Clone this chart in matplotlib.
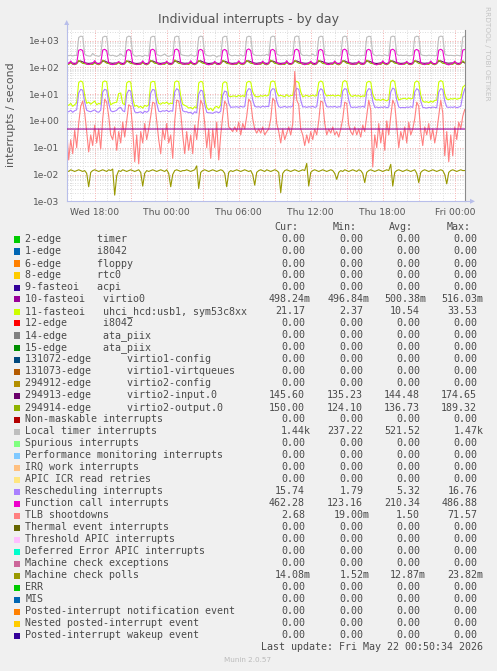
import numpy as np
import matplotlib
matplotlib.use("Agg")
import matplotlib.pyplot as plt
from matplotlib.patches import Rectangle, Polygon
from matplotlib.lines import Line2D
from matplotlib.ticker import FixedLocator, FixedFormatter, NullLocator

# ---------------- data ----------------
start_hour = -8 - 20 / 60      # Wed 15:40, hours relative to Thu 00:00
sample_step = 10 / 60          # 10-minute samples
n_samples = 200

tick_hours = [-6, 0, 6, 12, 18, 24]
tick_labels = ["Wed 18:00", "Thu 00:00", "Thu 06:00", "Thu 12:00", "Thu 18:00", "Fri 00:00"]
ytick_values = [1e-3, 1e-2, 1e-1, 1e0, 1e1, 1e2, 1e3]
ytick_labels = ["1e-03", "1e-02", "1e-01", "1e+00", "1e+01", "1e+02", "1e+03"]

# 10-fasteoi virtio0 (flat)
irq10 = [0.4982, 0.4975, 0.4985, 0.4990, 0.4970, 0.4988, 0.4992, 0.4978, 0.4984, 0.4980, 0.4986, 0.4982]

# 11-fasteoi uhci_hcd:usb1, sym53c8xx
irq11 = [
    4.2, 3.8, 4.5, 3.5, 4.0, 4.8, 27, 31, 28, 9.0, 4.5, 5.0,
    4.2, 4.8, 5.5, 4.0, 4.5, 4.2, 28, 31, 29, 8.0, 4.0, 4.5,
    4.8, 5.0, 10.5, 11.0, 4.5, 4.0, 26, 30, 28, 7.0, 3.5, 3.8,
    3.2, 3.5, 3.0, 3.8, 3.5, 4.0, 27, 30, 29, 8.0, 4.5, 4.2,
    4.8, 4.5, 5.0, 4.2, 4.6, 4.4, 28, 31, 29, 8.5, 4.2, 3.8,
    3.5, 3.0, 3.2, 2.8, 3.4, 3.0, 26, 30, 28, 7.0, 3.2, 2.6,
    3.0, 2.4, 3.2, 3.5, 3.0, 4.0, 25, 29, 27, 8.5, 8.0, 8.5,
    8.5, 8.0, 9.0, 8.2, 8.8, 8.0, 27, 30, 28, 12, 8.5, 8.0,
    8.0, 8.8, 8.3, 9.0, 8.5, 9.2, 28, 31, 29, 12, 8.5, 9.0,
    8.5, 8.0, 9.5, 8.2, 8.8, 9.0, 26, 30, 27, 12, 8.0, 8.5,
    9.0, 8.2, 8.6, 9.2, 8.4, 8.8, 27, 31, 28, 11, 8.5, 9.0,
    8.6, 9.2, 8.4, 8.8, 9.0, 8.2, 28, 32, 29, 12, 8.6, 8.2,
    9.0, 8.4, 8.8, 8.0, 8.6, 8.2, 27, 30, 28, 10, 6.5, 6.0,
    6.2, 5.8, 6.5, 6.0, 5.6, 6.4, 28, 33, 29, 10, 6.0, 6.5,
    6.8, 7.0, 6.4, 7.2, 6.6, 7.0, 27, 31, 28, 9, 5.5, 5.0,
    5.2, 4.8, 5.5, 5.0, 5.8, 6.0, 28, 32, 29, 10, 6.5, 6.2,
    6.8, 6.5, 7.0, 6.4, 6.8, 7.2, 18, 21.17,
]

# 294913-edge virtio2-input.0
irq294913 = [
    144, 142, 150, 143, 141, 145, 168, 172, 160, 148, 143, 140,
    143, 145, 152, 142, 140, 146, 166, 174, 158, 149, 144, 141,
    145, 143, 149, 144, 139, 147, 165, 170, 161, 147, 142, 139,
    142, 144, 151, 141, 138, 145, 169, 173, 159, 150, 143, 140,
    144, 146, 150, 143, 140, 144, 167, 171, 162, 148, 145, 141,
    143, 142, 153, 142, 137, 146, 168, 175, 160, 149, 143, 139,
    141, 144, 148, 143, 139, 145, 164, 170, 158, 147, 142, 140,
    144, 143, 151, 142, 141, 147, 169, 174, 161, 150, 144, 141,
    145, 146, 150, 144, 140, 146, 166, 172, 159, 148, 143, 140,
    143, 144, 152, 141, 138, 145, 168, 173, 160, 149, 145, 142,
    142, 145, 149, 143, 139, 147, 165, 171, 162, 147, 143, 140,
    144, 143, 151, 142, 140, 146, 167, 174, 158, 150, 144, 141,
    145, 144, 150, 144, 141, 145, 169, 172, 161, 148, 142, 139,
    143, 146, 153, 143, 138, 147, 166, 173, 159, 149, 144, 140,
    142, 144, 149, 141, 139, 146, 168, 171, 160, 147, 143, 141,
    144, 143, 151, 142, 135, 145, 167, 174, 162, 150, 145, 142,
    145, 144, 150, 143, 140, 146, 160, 145.6,
]

# 294914-edge virtio2-output.0
irq294914 = [
    131, 128, 150, 129, 126, 134, 180, 158, 140, 137, 130, 127,
    130, 127, 148, 131, 125, 136, 185, 160, 142, 138, 129, 128,
    129, 130, 152, 128, 127, 133, 178, 156, 139, 136, 131, 126,
    132, 128, 149, 130, 124, 135, 182, 161, 141, 139, 128, 127,
    130, 129, 151, 129, 126, 134, 189, 159, 140, 137, 130, 128,
    131, 127, 147, 131, 125, 136, 179, 157, 142, 138, 129, 126,
    128, 130, 150, 128, 127, 133, 183, 160, 139, 136, 131, 127,
    130, 128, 153, 130, 126, 135, 181, 158, 141, 138, 130, 128,
    131, 129, 148, 129, 125, 134, 186, 161, 140, 137, 128, 127,
    129, 127, 151, 131, 127, 136, 180, 157, 142, 139, 131, 126,
    130, 130, 149, 128, 126, 133, 184, 159, 139, 136, 129, 128,
    132, 128, 152, 130, 124, 135, 178, 160, 141, 138, 130, 127,
    130, 129, 150, 129, 127, 134, 187, 158, 140, 137, 128, 126,
    131, 127, 148, 131, 125, 136, 182, 161, 142, 139, 131, 128,
    129, 130, 151, 128, 126, 133, 179, 157, 139, 136, 129, 127,
    130, 128, 149, 130, 125, 135, 185, 160, 141, 138, 130, 128,
    131, 129, 150, 129, 126, 134, 175, 150,
]

# Local timer interrupts
local_timer = [
    290, 270, 285, 265, 280, 275, 1300, 1450, 1410, 310, 275, 265,
    260, 330, 280, 270, 255, 285, 1320, 1440, 1400, 300, 270, 285,
    265, 255, 280, 320, 270, 260, 1310, 1460, 1390, 315, 265, 260,
    275, 270, 250, 285, 270, 265, 1300, 1440, 1410, 300, 280, 265,
    285, 315, 270, 255, 275, 285, 1330, 1450, 1400, 305, 285, 275,
    270, 265, 295, 275, 260, 280, 1320, 1460, 1390, 325, 280, 270,
    265, 285, 275, 240, 270, 265, 1300, 1440, 1410, 315, 275, 270,
    285, 275, 270, 295, 265, 280, 1330, 1450, 1390, 325, 285, 275,
    280, 270, 285, 275, 305, 270, 1310, 1460, 1400, 315, 285, 270,
    275, 280, 270, 285, 275, 295, 1340, 1470, 1410, 325, 280, 275,
    285, 270, 275, 315, 270, 280, 1300, 1450, 1400, 305, 285, 275,
    275, 285, 270, 280, 265, 285, 1330, 1460, 1390, 315, 275, 280,
    270, 275, 285, 270, 280, 275, 1310, 1440, 1410, 325, 280, 270,
    285, 275, 270, 295, 275, 270, 1340, 1460, 1400, 315, 275, 285,
    275, 280, 285, 270, 275, 285, 1320, 1450, 1390, 305, 280, 275,
    270, 285, 275, 280, 270, 275, 1330, 1460, 1410, 315, 285, 275,
    280, 275, 270, 285, 275, 265, 1340, 1440,
]

# Rescheduling interrupts
rescheduling = [
    2.3, 2.2, 2.5, 2.1, 2.4, 2.6, 11, 15, 14, 5.0, 2.5, 2.3,
    2.2, 2.4, 2.6, 2.2, 2.1, 2.5, 12, 15, 14, 4.5, 2.4, 2.2,
    2.3, 2.5, 3.0, 3.2, 2.4, 2.2, 10, 14, 13, 4.0, 2.2, 2.0,
    2.1, 2.2, 1.9, 2.3, 2.1, 2.4, 11, 15, 14, 4.5, 2.3, 2.2,
    2.4, 2.3, 2.5, 2.2, 2.4, 2.3, 12, 16, 14, 5.0, 2.4, 2.2,
    2.2, 2.0, 2.1, 1.8, 2.2, 2.0, 10, 14, 13, 4.0, 2.1, 2.0,
    2.0, 1.9, 2.1, 2.2, 2.0, 2.3, 9, 13, 12, 4.5, 3.2, 3.3,
    3.3, 3.4, 3.2, 3.5, 3.3, 3.4, 12, 16, 15, 6.0, 3.5, 3.3,
    3.4, 3.2, 3.6, 3.3, 3.5, 3.4, 13, 16, 15, 5.5, 3.4, 3.2,
    3.3, 3.5, 3.2, 3.4, 3.3, 3.6, 12, 16.5, 15, 6.0, 3.3, 3.4,
    3.2, 3.4, 3.3, 3.5, 3.2, 3.4, 12, 16, 14, 5.5, 3.4, 3.3,
    3.4, 3.3, 3.5, 3.2, 3.4, 3.3, 13, 16, 15, 6.0, 3.3, 3.2,
    3.3, 3.2, 3.4, 3.3, 3.5, 3.2, 12, 16, 15, 5.5, 3.2, 3.3,
    3.1, 3.3, 3.2, 3.4, 3.1, 3.3, 12, 16.76, 15, 6.0, 3.3, 3.1,
    3.2, 3.1, 3.3, 3.2, 3.4, 3.2, 12, 16, 14, 5.5, 3.2, 3.1,
    3.0, 3.2, 3.1, 3.3, 3.2, 3.1, 12, 16, 15, 5.5, 3.3, 3.2,
    3.3, 3.2, 3.4, 3.1, 3.3, 3.5, 9.0, 15.74,
]

# Function call interrupts
function_call = [
    150, 138, 172, 135, 130, 142, 430, 465, 420, 155, 132, 128,
    135, 140, 178, 138, 133, 145, 440, 470, 415, 150, 130, 126,
    132, 145, 165, 140, 128, 140, 420, 460, 410, 148, 134, 130,
    128, 137, 175, 136, 130, 143, 435, 475, 425, 152, 131, 127,
    138, 142, 170, 134, 129, 141, 445, 480, 420, 150, 133, 130,
    134, 139, 176, 137, 131, 144, 430, 470, 418, 155, 129, 125,
    131, 136, 168, 135, 128, 140, 425, 465, 412, 149, 134, 130,
    136, 140, 174, 138, 132, 146, 440, 487, 420, 153, 132, 128,
    133, 141, 171, 136, 130, 142, 430, 470, 415, 150, 135, 129,
    137, 139, 177, 134, 131, 145, 435, 475, 422, 156, 133, 127,
    132, 143, 169, 137, 129, 141, 428, 468, 416, 151, 130, 126,
    135, 138, 173, 139, 133, 144, 438, 478, 419, 154, 134, 130,
    130, 140, 170, 136, 128, 142, 432, 472, 414, 150, 131, 124,
    134, 137, 175, 138, 131, 146, 436, 476, 421, 155, 133, 128,
    131, 142, 167, 135, 129, 140, 426, 466, 413, 149, 132, 127,
    136, 139, 172, 137, 132, 143, 434, 474, 418, 152, 130, 123,
    133, 141, 170, 136, 130, 145, 440, 462.28,
]

# TLB shootdowns
tlb = [
    0.5, 0.035, 0.2, 0.06, 0.45, 0.1, 0.8, 3.5, 5.5, 2.0, 0.4, 0.07,
    0.3, 0.12, 0.7, 0.15, 0.5, 0.09, 1.2, 6.5, 5.0, 1.5, 0.3, 0.2,
    0.6, 0.08, 0.4, 0.15, 0.9, 0.25, 1.0, 4.0, 3.5, 0.5, 0.03, 0.3,
    0.025, 0.4, 0.15, 0.8, 0.2, 0.5, 1.5, 5.0, 4.5, 1.0, 0.2, 0.06,
    0.5, 0.2, 0.8, 0.15, 0.3, 0.04, 1.0, 6.0, 5.5, 2.0, 0.3, 0.06,
    0.4, 0.08, 0.3, 0.06, 0.7, 0.2, 1.2, 6.0, 4.0, 0.8, 0.1, 0.5,
    0.04, 0.5, 0.1, 0.9, 0.035, 0.3, 1.5, 5.5, 4.0, 0.6, 0.5, 0.4,
    0.6, 0.4, 0.9, 0.3, 0.8, 0.5, 1.5, 6.5, 5.0, 1.2, 0.5, 0.35,
    0.5, 0.35, 0.6, 0.3, 0.4, 0.5, 1.2, 7.0, 5.5, 0.8, 0.4, 0.15,
    0.5, 0.2, 0.35, 0.6, 0.3, 0.8, 70.0, 6.0, 4.0, 0.5, 0.3, 0.12,
    0.3, 0.15, 0.4, 0.2, 0.5, 0.3, 1.0, 5.5, 5.0, 0.8, 0.3, 0.5,
    0.35, 0.6, 0.3, 0.4, 0.25, 0.5, 1.2, 5.0, 4.5, 0.7, 0.4, 0.3,
    0.6, 0.3, 0.5, 0.25, 0.7, 0.4, 1.5, 6.0, 2.5, 0.019, 0.3, 0.1,
    0.8, 0.15, 0.5, 0.08, 1.0, 0.3, 1.5, 6.0, 4.0, 0.6, 0.1, 0.4,
    0.2, 0.6, 0.15, 0.9, 0.3, 0.5, 1.2, 5.0, 3.5, 0.4, 0.12, 0.6,
    0.3, 0.8, 0.2, 0.5, 0.15, 0.4, 1.5, 6.0, 2.0, 0.05, 0.4, 0.03,
    0.3, 0.05, 0.6, 0.2, 0.9, 0.5, 1.5, 2.68,
]

# Machine check polls
mc_polls = [
    0.014, 0.013, 0.015, 0.014, 0.013, 0.014, 0.015, 0.014, 0.013, 0.014, 0.011, 0.0035,
    0.012, 0.014, 0.015, 0.014, 0.013, 0.014, 0.015, 0.014, 0.013, 0.015, 0.014, 0.016,
    0.0017, 0.009, 0.014, 0.013, 0.015, 0.014, 0.013, 0.014, 0.015, 0.014, 0.013, 0.014,
    0.015, 0.012, 0.0037, 0.011, 0.014, 0.013, 0.014, 0.015, 0.014, 0.013, 0.014, 0.015,
    0.014, 0.013, 0.015, 0.011, 0.0035, 0.010, 0.014, 0.015, 0.014, 0.013, 0.014, 0.014,
    0.015, 0.014, 0.013, 0.014, 0.015, 0.021, 0.003, 0.012, 0.014, 0.015, 0.014, 0.013,
    0.014, 0.015, 0.014, 0.013, 0.014, 0.015, 0.014, 0.011, 0.0035, 0.012, 0.014, 0.013,
    0.014, 0.015, 0.014, 0.013, 0.014, 0.015, 0.014, 0.013, 0.014, 0.010, 0.004, 0.012,
    0.014, 0.015, 0.014, 0.013, 0.015, 0.014, 0.013, 0.014, 0.015, 0.014, 0.012, 0.0021,
    0.011, 0.014, 0.015, 0.014, 0.013, 0.014, 0.015, 0.014, 0.013, 0.014, 0.015, 0.014,
    0.026, 0.0037, 0.012, 0.014, 0.015, 0.014, 0.013, 0.014, 0.015, 0.014, 0.013, 0.014,
    0.015, 0.014, 0.011, 0.0066, 0.012, 0.014, 0.013, 0.015, 0.014, 0.013, 0.014, 0.015,
    0.014, 0.013, 0.015, 0.014, 0.011, 0.005, 0.012, 0.014, 0.015, 0.014, 0.013, 0.014,
    0.015, 0.014, 0.013, 0.014, 0.015, 0.014, 0.024, 0.0037, 0.012, 0.014, 0.015, 0.014,
    0.013, 0.014, 0.015, 0.014, 0.013, 0.014, 0.015, 0.011, 0.005, 0.012, 0.014, 0.015,
    0.014, 0.013, 0.014, 0.015, 0.014, 0.013, 0.014, 0.015, 0.014, 0.010, 0.0045, 0.012,
    0.014, 0.015, 0.014, 0.013, 0.014, 0.015, 0.014, 0.01408,
]

legend_labels = [
    "2-edge      timer", "1-edge      i8042", "6-edge      floppy", "8-edge      rtc0",
    "9-fasteoi   acpi", "10-fasteoi   virtio0", "11-fasteoi   uhci_hcd:usb1, sym53c8xx",
    "12-edge      i8042", "14-edge      ata_piix", "15-edge      ata_piix",
    "131072-edge      virtio1-config", "131073-edge      virtio1-virtqueues",
    "294912-edge      virtio2-config", "294913-edge      virtio2-input.0",
    "294914-edge      virtio2-output.0", "Non-maskable interrupts", "Local timer interrupts",
    "Spurious interrupts", "Performance monitoring interrupts", "IRQ work interrupts",
    "APIC ICR read retries", "Rescheduling interrupts", "Function call interrupts",
    "TLB shootdowns", "Thermal event interrupts", "Threshold APIC interrupts",
    "Deferred Error APIC interrupts", "Machine check exceptions", "Machine check polls",
    "ERR", "MIS", "Posted-interrupt notification event", "Nested posted-interrupt event",
    "Posted-interrupt wakeup event",
]
legend_colors = [
    "#00CC00", "#0066B3", "#FF8000", "#FFCC00", "#330099", "#990099", "#CCFF00", "#FF0000",
    "#808080", "#008F00", "#00487D", "#B35A00", "#B38F00", "#6B006B", "#8FB300", "#B30000",
    "#BEBEBE", "#80FF80", "#80C9FF", "#FFC080", "#FFE680", "#AA80FF", "#EE00CC", "#FF8080",
    "#666600", "#FFBFFF", "#00FFCC", "#CC6699", "#999900", "#00CC00", "#0066B3", "#FF8000",
    "#FFCC00", "#330099",
]
z = "0.00"
cur_vals = [z, z, z, z, z, "498.24m", "21.17", z, z, z, z, z, z, "145.60", "150.00", z,
            "1.44k", z, z, z, z, "15.74", "462.28", "2.68", z, z, z, z, "14.08m", z, z, z, z, z]
min_vals = [z, z, z, z, z, "496.84m", "2.37", z, z, z, z, z, z, "135.23", "124.10", z,
            "237.22", z, z, z, z, "1.79", "123.16", "19.00m", z, z, z, z, "1.52m", z, z, z, z, z]
avg_vals = [z, z, z, z, z, "500.38m", "10.54", z, z, z, z, z, z, "144.48", "136.73", z,
            "521.52", z, z, z, z, "5.32", "210.34", "1.50", z, z, z, z, "12.87m", z, z, z, z, z]
max_vals = [z, z, z, z, z, "516.03m", "33.53", z, z, z, z, z, z, "174.65", "189.32", z,
            "1.47k", z, z, z, z, "16.76", "486.88", "71.57", z, z, z, z, "23.82m", z, z, z, z, z]
column_headers = ["Cur:", "Min:", "Avg:", "Max:"]

title = "Individual interrupts - by day"
ylabel = "interrupts / second"
last_update = "Last update: Fri May 22 00:50:34 2026"
watermark = "RRDTOOL / TOBI OETIKER"
footer = "Munin 2.0.57"

# ---------------- drawing ----------------
W, H = 497, 671
fig = plt.figure(figsize=(W / 100, H / 100), dpi=100)
fig.patch.set_facecolor("#F0F0F0")

def fx(x):
    return x / W

def fy(y):
    return 1 - y / H

AX_L, AX_R, AX_T, AX_B = 66.7, 465.0, 29.8, 201.3
ax = fig.add_axes([fx(AX_L), fy(AX_B), (AX_R - AX_L) / W, (AX_B - AX_T) / H])
ax.set_facecolor("white")
ax.set_yscale("log")

hours = start_hour + sample_step * np.arange(n_samples)
ax.set_xlim(hours[0], hours[-1] + 0.02)
ax.set_ylim(1e-3, 10 ** 3.4)

# grid
minor_col = "#DEDEDE"
major_col = "#F5B5B5"
dot = (0, (1, 1.5))
for h in range(-8, 25):
    if h % 3 == 0:
        continue
    ax.axvline(h, color=minor_col, lw=0.72, ls=dot, zorder=0.5)
for d in range(-3, 4):
    for m in range(2, 10):
        v = m * 10.0 ** d
        if v < 10 ** 3.4:
            ax.axhline(v, color=minor_col, lw=0.72, ls=dot, zorder=0.5)
for h in range(-6, 25, 3):
    ax.axvline(h, color=major_col, lw=0.72, ls=dot, zorder=0.6)
for d in range(-3, 4):
    ax.axhline(10.0 ** d, color=major_col, lw=0.72, ls=dot, zorder=0.6)

lw = 0.8
ax.plot(hours, irq11, color=legend_colors[6], lw=lw, zorder=2)
ax.plot(hours, irq294913, color=legend_colors[13], lw=lw, zorder=2)
ax.plot(hours, irq294914, color=legend_colors[14], lw=lw, zorder=2)
ax.plot(hours, local_timer, color=legend_colors[16], lw=lw, zorder=2)
ax.plot(hours, rescheduling, color=legend_colors[21], lw=lw, zorder=2)
ax.plot(hours, function_call, color=legend_colors[22], lw=lw, zorder=2)
ax.plot(hours, tlb, color=legend_colors[23], lw=lw, zorder=2)
ax.plot(hours, mc_polls, color=legend_colors[28], lw=lw, zorder=2)
ax.plot(np.linspace(hours[0], hours[-1], len(irq10)), irq10, color=legend_colors[5], lw=lw, zorder=3)

# axes ticks
ax.xaxis.set_major_locator(FixedLocator(tick_hours))
ax.xaxis.set_major_formatter(FixedFormatter(tick_labels))
ax.xaxis.set_minor_locator(NullLocator())
ax.yaxis.set_major_locator(FixedLocator(ytick_values))
ax.yaxis.set_major_formatter(FixedFormatter(ytick_labels))
ax.yaxis.set_minor_locator(NullLocator())
ax.tick_params(axis="both", which="both", length=0, labelsize=6.6, labelcolor="#555555")
ax.tick_params(axis="x", pad=5.0)
ax.tick_params(axis="y", pad=5.2)

ax.spines["top"].set_visible(False)
ax.spines["right"].set_color("#8A8A8A")
ax.spines["right"].set_linewidth(0.8)
ax.spines["left"].set_color("#B8BEEA")
ax.spines["bottom"].set_color("#B8BEEA")
ax.spines["left"].set_linewidth(0.8)
ax.spines["bottom"].set_linewidth(0.8)

# axis extensions + arrows
acol = "#B8BEEA"
fig.add_artist(Line2D([fx(AX_L), fx(AX_L)], [fy(AX_T), fy(25)], color=acol, lw=0.8))
fig.add_artist(Line2D([fx(AX_R), fx(471)], [fy(AX_B), fy(AX_B)], color=acol, lw=0.8))
fig.add_artist(Polygon([[fx(AX_L - 2.5), fy(25)], [fx(AX_L + 2.5), fy(25)], [fx(AX_L), fy(20)]],
                       closed=True, color=acol, lw=0, transform=fig.transFigure))
fig.add_artist(Polygon([[fx(470), fy(AX_B - 2.5)], [fx(470), fy(AX_B + 2.5)], [fx(475), fy(AX_B)]],
                       closed=True, color=acol, lw=0, transform=fig.transFigure))

# texts
fig.text(fx(248.5), fy(19.3), title, ha="center", va="center", fontsize=9, color="#555555")
fig.text(fx(10.7), fy(115), ylabel, rotation=90, ha="center", va="center", fontsize=7.9, color="#555555")
fig.text(fx(487), fy(53.5), watermark, rotation=270, ha="center", va="center", fontsize=5.3, color="#C4C4C4")
fig.text(fx(247.7), fy(660), footer, ha="center", va="center", fontsize=5.2, color="#BBBBBB")

mono = "DejaVu Sans Mono"
fs = 7.2
tcol = "#4A4A4A"
charw = 6.02
row0, row_h = 239.5, 12.0
header_x = [274.5, 332.2, 388.6, 446.2]
col_right = [305.0, 363.4, 420.0, 477.4]
for hx, ht in zip(header_x, column_headers):
    fig.text(fx(hx), fy(227.3), ht, family=mono, fontsize=fs, color=tcol, ha="left", va="center")

for i, lab in enumerate(legend_labels):
    yc = row0 + row_h * i
    fig.add_artist(Rectangle((fx(14), fy(yc + 3)), 6 / W, 6 / H, transform=fig.transFigure,
                             facecolor=legend_colors[i], edgecolor="none"))
    fig.text(fx(25.3), fy(yc), lab, family=mono, fontsize=fs, color=tcol, ha="left", va="center")
    for cr, vals in zip(col_right, [cur_vals, min_vals, avg_vals, max_vals]):
        s = vals[i]
        num = s.rstrip("mk")
        fig.text(fx(cr - len(num) * charw), fy(yc), s, family=mono, fontsize=fs, color=tcol,
                 ha="left", va="center")

fig.text(fx(260.7), fy(647.2), last_update, family=mono, fontsize=fs, color=tcol, ha="left", va="center")

fig.savefig("out.png", dpi=100, facecolor=fig.get_facecolor())
